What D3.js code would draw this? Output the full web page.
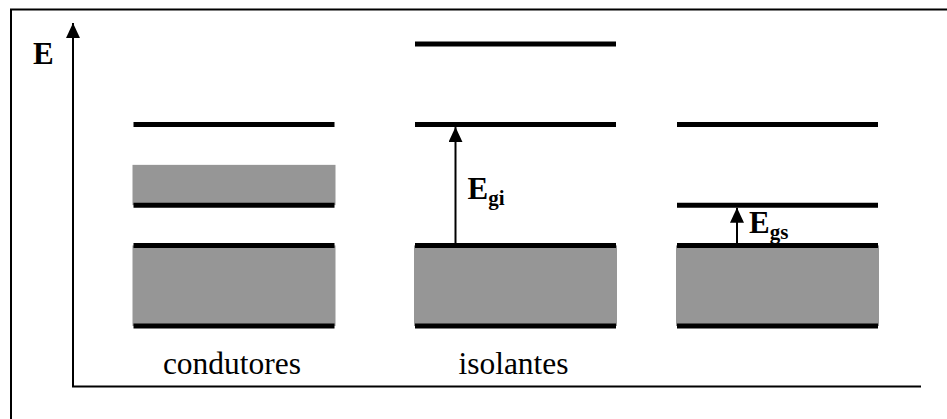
<!DOCTYPE html>
<html>
<head>
<meta charset="utf-8">
<script src="https://cdn.jsdelivr.net/npm/d3@7"></script>
<style>
  html, body { margin: 0; padding: 0; background: #fff; }
  svg { display: block; }
  .serif { font-family: "Liberation Serif", "Times New Roman", Times, serif; }
</style>
</head>
<body>
<svg id="chart" width="947" height="419"></svg>
<script>
// ---------------- data ----------------
const categories = ["condutores", "isolantes", "semicondutores"];
const categoryLabels = ["condutores", "isolantes", ""];
// energy levels (arbitrary units) drawn as thick black lines, per category
const levelsCondutores = [0, 2, 3, 5];
const levelsIsolantes = [0, 2, 5, 7];
const levelsSemicondutores = [0, 2, 3, 5];
// filled (occupied) bands [low, high] per category
const bandsCondutores = [[0, 2], [3, 4]];
const bandsIsolantes = [[0, 2]];
const bandsSemicondutores = [[0, 2]];
// gap arrows
const gapCategories = ["isolantes", "semicondutores"];
const gapFrom = [2, 2];
const gapTo = [5, 3];
const gapLabelSub = ["gi", "gs"];
const axisLabel = "E";

const levels = [levelsCondutores, levelsIsolantes, levelsSemicondutores];
const bands = [bandsCondutores, bandsIsolantes, bandsSemicondutores];

// ---------------- layout ----------------
const svg = d3.select("#chart");
const y = d3.scaleLinear().domain([0, 7]).range([326, 44]);
const x = d3.scaleOrdinal().domain(categories).range([133.5, 415, 677]);
const colW = 201;
const axisX = 73, axisBottomE = -1.5, axisTopE = 7.52, axisRight = 921;

// outer frame (extends beyond right/bottom of the picture)
svg.append("rect")
  .attr("x", 11).attr("y", 9.5).attr("width", 1000).attr("height", 1000)
  .attr("fill", "none").attr("stroke", "#000").attr("stroke-width", 2);

const defs = svg.append("defs");
defs.append("marker").attr("id", "arrow")
  .attr("viewBox", "0 0 15 14").attr("refX", 15).attr("refY", 7)
  .attr("markerWidth", 15).attr("markerHeight", 14)
  .attr("markerUnits", "userSpaceOnUse").attr("orient", "auto")
  .append("path").attr("d", "M0,0 L15,7 L0,14 Z").attr("fill", "#000");

// axes
svg.append("line")
  .attr("x1", axisX).attr("x2", axisX)
  .attr("y1", y(axisBottomE)).attr("y2", y(axisTopE))
  .attr("stroke", "#000").attr("stroke-width", 2).attr("marker-end", "url(#arrow)");
svg.append("line")
  .attr("x1", axisX - 1).attr("x2", axisRight)
  .attr("y1", y(axisBottomE)).attr("y2", y(axisBottomE))
  .attr("stroke", "#000").attr("stroke-width", 2);
svg.append("text")
  .attr("class", "serif")
  .attr("x", 33).attr("y", 64)
  .attr("font-weight", "bold").attr("font-size", 31)
  .text(axisLabel);

// columns
categories.forEach((c, i) => {
  const g = svg.append("g");
  g.selectAll("rect.band").data(bands[i]).join("rect")
    .attr("class", "band")
    .attr("x", x(c) - 1).attr("width", colW + 2)
    .attr("y", d => y(d[1])).attr("height", d => y(d[0]) - y(d[1]))
    .attr("fill", "#969696");
  g.selectAll("line.level").data(levels[i]).join("line")
    .attr("class", "level")
    .attr("x1", x(c)).attr("x2", x(c) + colW)
    .attr("y1", d => y(d)).attr("y2", d => y(d))
    .attr("stroke", "#000").attr("stroke-width", 5);
  if (categoryLabels[i]) {
    g.append("text")
      .attr("class", "serif")
      .attr("x", x(c) + colW / 2 - 2).attr("y", 374)
      .attr("text-anchor", "middle")
      .attr("font-size", 31.5)
      .text(categoryLabels[i]);
  }
});

// gap arrows
const arrowOffsets = [40.5, 60];
gapCategories.forEach((c, i) => {
  const ax = x(c) + arrowOffsets[i];
  svg.append("line")
    .attr("x1", ax).attr("x2", ax)
    .attr("y1", y(gapFrom[i])).attr("y2", y(gapTo[i]) + 2.5)
    .attr("stroke", "#000").attr("stroke-width", 2)
    .attr("marker-end", "url(#arrow)");
  const ly = i === 0 ? 199 : 233;
  const t = svg.append("text")
    .attr("class", "serif")
    .attr("x", ax + 12).attr("y", ly)
    .attr("font-weight", "bold").attr("font-size", 31);
  t.append("tspan").text("E");
  t.append("tspan").attr("font-size", 21).attr("dy", 6).text(gapLabelSub[i]);
});
</script>
</body>
</html>
